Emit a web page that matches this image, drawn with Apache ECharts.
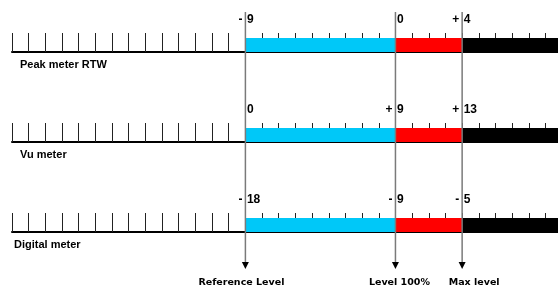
<!DOCTYPE html>
<html>
<head>
<meta charset="utf-8">
<title>Meter levels</title>
<script src="https://cdn.jsdelivr.net/npm/echarts@6/dist/echarts.min.js"></script>
<style>
	html, body {margin:0; padding:0; background:#fff;}
	#chart {width:558px; height:289px;}
</style>
</head>
<body>
<div id="chart"></div>
<script>
// one row per meter, values in dB on that meter's own scale
var meterNames = ['Peak meter RTW', 'Vu meter', 'Digital meter'];
var refLevels = [-9, 0, -18];
var fullLevels = [0, 9, -9];
var maxLevels = [4, 13, -5];
var scaleMin = [-23, -14, -32];
var scaleMax = [9.75, 18.75, 0.75];
var markerNames = ['Reference Level', 'Level 100%', 'Max level'];

// styling / layout
var zoneColors = ['#00c8f8', '#ff0000', '#000000'];
var markerNudge = [-4, 4, 12];
var nameLeft = [20, 20, 14];
var rowTop = [33, 123, 213];
var TICK_H = 19, BAR_H = 14;
var GRID_LEFT = 12, GRID_RIGHT = 0;
var FONT = '"Liberation Sans", Arial, sans-serif';

var myChart = echarts.init(document.getElementById('chart'));

function renderZone(params, api) {
	var p0 = api.coord([api.value(0), 0]);
	var p1 = api.coord([api.value(1), 0]);
	return {
		type: 'rect',
		shape: {x: p0[0], y: p0[1] - BAR_H, width: p1[0] - p0[0], height: BAR_H},
		style: {fill: zoneColors[api.value(2)]}
	};
}

function renderLevelLabel(params, api) {
	var v = api.value(0);
	var p = api.coord([v, 0]);
	var sign = v < 0 ? '-' : (v > 0 ? '+' : '');
	var y = p[1] - 32;
	return {
		type: 'group',
		children: [
			{type: 'text', x: p[0] - 3, y: y, style: {text: sign, font: 'bold 12px ' + FONT, fill: '#000', align: 'right', verticalAlign: 'middle'}},
			{type: 'text', x: p[0] + 1.5, y: y, style: {text: String(Math.abs(v)), font: 'bold 12px ' + FONT, fill: '#000', align: 'left', verticalAlign: 'middle'}}
		]
	};
}

function renderMarker(params, api) {
	var idx = api.value(1);
	var top = api.coord([api.value(0), 1]);
	var bot = api.coord([api.value(0), 0]);
	var x = top[0];
	return {
		type: 'group',
		children: [
			{type: 'line', shape: {x1: x, y1: top[1], x2: x, y2: bot[1]}, style: {stroke: '#7a7a7a', lineWidth: 1.5}},
			{type: 'polygon', shape: {points: [[x - 3.5, bot[1]], [x + 3.5, bot[1]], [x, bot[1] + 7]]}, style: {fill: '#000'}},
			{type: 'text', x: x + markerNudge[idx], y: bot[1] + 21, style: {text: markerNames[idx], font: 'bold 9.5px "DejaVu Sans", Verdana, sans-serif', fill: '#000', align: 'center', verticalAlign: 'middle'}}
		]
	};
}

var grids = [], xAxes = [], yAxes = [], series = [], titles = [];

meterNames.forEach(function(name, i) {
	grids.push({left: GRID_LEFT, right: GRID_RIGHT, top: rowTop[i], height: TICK_H, containLabel: false});
	xAxes.push({
		type: 'value', gridIndex: i, min: scaleMin[i], max: scaleMax[i], interval: 1,
		axisLine: {lineStyle: {color: '#000', width: 2}},
		axisTick: {inside: true, length: TICK_H, lineStyle: {color: '#222', width: 1}},
		axisLabel: {show: false},
		splitLine: {show: false}
	});
	yAxes.push({type: 'value', gridIndex: i, min: 0, max: 1, show: false});
	series.push({
		type: 'custom', xAxisIndex: i, yAxisIndex: i, z: 3,
		renderItem: renderZone,
		encode: {x: [0, 1]},
		data: [
			[refLevels[i], fullLevels[i], 0],
			[fullLevels[i], maxLevels[i], 1],
			[maxLevels[i], scaleMax[i], 2]
		],
		silent: true
	});
	series.push({
		type: 'custom', xAxisIndex: i, yAxisIndex: i, z: 4,
		renderItem: renderLevelLabel,
		encode: {x: 0},
		data: [[refLevels[i]], [fullLevels[i]], [maxLevels[i]]],
		silent: true
	});
	titles.push({
		text: name, left: nameLeft[i], top: rowTop[i] + TICK_H + 7, padding: 0,
		textStyle: {fontSize: 11, fontWeight: 'bold', fontFamily: FONT, color: '#000'}
	});
});

// overlay grid for the long guide lines, on the top meter's scale
grids.push({left: GRID_LEFT, right: GRID_RIGHT, top: 12, height: 250, containLabel: false});
xAxes.push({type: 'value', gridIndex: 3, min: scaleMin[0], max: scaleMax[0], show: false});
yAxes.push({type: 'value', gridIndex: 3, min: 0, max: 1, show: false});
series.push({
	type: 'custom', xAxisIndex: 3, yAxisIndex: 3, z: 10,
	renderItem: renderMarker,
	encode: {x: 0},
	data: [[refLevels[0], 0], [fullLevels[0], 1], [maxLevels[0], 2]],
	silent: true
});

var option = {
	animation: false,
	backgroundColor: '#fff',
	title: titles,
	grid: grids,
	xAxis: xAxes,
	yAxis: yAxes,
	series: series
};

myChart.setOption(option, true);
</script>
</body>
</html>
